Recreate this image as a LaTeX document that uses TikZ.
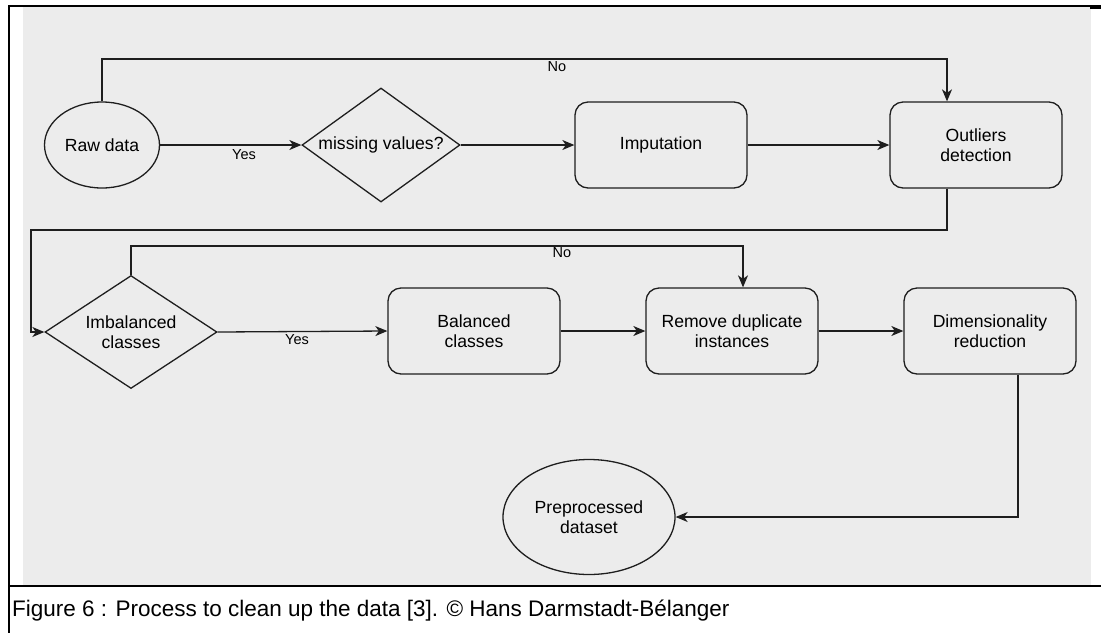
\documentclass[tikz,border=0pt]{standalone}
\usepackage{fontspec}
\setmainfont{Liberation Sans}
\usetikzlibrary{arrows.meta,shapes.geometric}
\definecolor{panel}{HTML}{ECECEC}
\definecolor{ink}{HTML}{1E1E1E}
\tikzset{
  procbox/.style={draw=ink, line width=1.3, rounded corners=13, minimum width=172,
    minimum height=86, inner sep=0, align=center, font=\fontsize{17.6}{20.5}\selectfont},
  termnode/.style={draw=ink, line width=1.3, ellipse, inner sep=0, align=center,
    font=\fontsize{17.6}{20.5}\selectfont},
  decision/.style={draw=ink, line width=1.3, diamond, inner sep=0, align=center,
    font=\fontsize{17.6}{20.5}\selectfont},
  edgelabel/.style={inner sep=0, font=\fontsize{14.5}{16}\selectfont},
  flow/.style={draw=ink, line width=1.3, -{Stealth[length=12, width=10, inset=3.5]}}
}
\begin{document}
\begin{tikzpicture}[x=1pt, y=-1pt]
			\useasboundingbox (0,0) rectangle (1101,633);
			% FRAME
			\fill[panel] (23,7) rectangle (1091,585);
			\draw[line width=2] (8,6) -- (1101,6);
			\draw[line width=3] (1090,7) -- (1101,7);
			\draw[line width=2] (9,6) -- (9,633);
			\draw[line width=2] (9,586) -- (1101,586);
			
			% FIRST ROW
			\node[termnode, minimum width=115, minimum height=86] (raw) at (102,145) {Raw data};
			\node[decision, aspect=1.386, minimum width=158, minimum height=114] (missing) at (381,145) {missing values?};
			\node[procbox] (imput) at (661,145) {Imputation};
			\node[procbox] (outl) at (976,145) {Outliers\\detection};
			
			% SECOND ROW
			\node[decision, aspect=1.52, minimum width=172, minimum height=113] (imbal) at (131,332) {Imbalanced\\classes};
			\node[procbox] (bal) at (474,331) {Balanced\\classes};
			\node[procbox] (remdup) at (732,331) {Remove duplicate\\instances};
			\node[procbox] (dimred) at (990,331) {Dimensionality\\reduction};
			\node[termnode, minimum width=172, minimum height=115] (prep) at (589,517) {Preprocessed\\dataset};
			
			% BENDS
			\coordinate (noA) at (947,59);
			\coordinate (backA) at (947,230);
			\coordinate (backB) at (31,230);
			\coordinate (noB) at (743,246);
			\coordinate (down) at (1018,517);
			
			% DRAW EDGES
			\path[flow] (raw.east) -- (missing.west); \path[flow] (missing.east) -- (imput.west);
			\path[flow] (imput.east) -- (outl.west); \path[flow] (raw.north) |- (noA) -- (outl.north -| noA);
			\path[flow] (outl.south -| backA) -- (backA) -- (backB) |- (imbal.west);
			\path[flow] (imbal.east) -- (bal.west); \path[flow] (bal.east) -- (remdup.west);
			\path[flow] (remdup.east) -- (dimred.west); \path[flow] (imbal.north) |- (noB) -- (remdup.north -| noB);
			\path[flow] (dimred.south -| down) |- (prep.east);
			
			% LABELS
			\node[edgelabel] (yesA) at (244,155) {Yes};
			\node[edgelabel] (noLabA) at (557,67) {No};
			\node[edgelabel] (yesB) at (297,340) {Yes};
			\node[edgelabel] (noLabB) at (562,253) {No};
			\node[anchor=base west, inner sep=0, font=\fontsize{22.5}{24}\selectfont] (caption) at (12,616)
			{Figure 6 : Process to clean up the data [3]. © Hans Darmstadt-Bélanger};
		\end{tikzpicture}
\end{document}
